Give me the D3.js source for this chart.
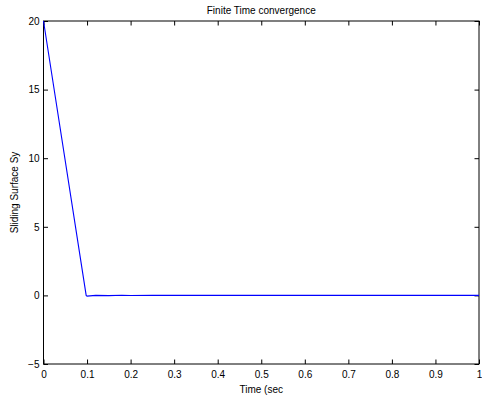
<!DOCTYPE html>
<html>
<head>
<meta charset="utf-8">
<script src="https://cdn.jsdelivr.net/npm/d3@7"></script>
<style>
  body { margin: 0; background: #fff; }
  svg text { font-family: "Liberation Sans", Arial, Helvetica, sans-serif; fill: #000; }
</style>
</head>
<body>
<svg id="chart" width="482" height="396"></svg>
<script>
// Sliding surface response over time
const time  = [0, 0.098, 0.100, 0.120, 0.150, 0.180, 0.200, 0.250, 0.300, 0.400, 0.500, 0.600, 0.700, 0.800, 0.900, 1.000];
const sy    = [20, 0.0, -0.05, 0.0, -0.02, 0.01, -0.01, 0.0, 0.0, 0.0, 0.0, 0.0, 0.0, 0.0, 0.0, 0.0];
const xTicks = [0, 0.1, 0.2, 0.3, 0.4, 0.5, 0.6, 0.7, 0.8, 0.9, 1];
const yTicks = [-5, 0, 5, 10, 15, 20];

const svg = d3.select("#chart");
const m = { left: 43.5, right: 479, top: 21, bottom: 364 };

const x = d3.scaleLinear().domain([0, 1]).range([m.left, m.right]);
const y = d3.scaleLinear().domain([-5, 20]).range([m.bottom, m.top]);

const tickLen = 4.5;

// Bottom axis with labels, ticks pointing into the plot
const gx = svg.append("g").attr("transform", `translate(0,${m.bottom})`)
  .call(d3.axisBottom(x).tickValues(xTicks).tickSizeInner(-tickLen).tickSizeOuter(0).tickPadding(7)
        .tickFormat(d => d === 0 || d === 1 ? String(d) : d3.format(".1f")(d)));
// Top axis, ticks only
const gt = svg.append("g").attr("transform", `translate(0,${m.top})`)
  .call(d3.axisTop(x).tickValues(xTicks).tickSizeInner(-tickLen).tickSizeOuter(0).tickFormat(""));
// Left axis with labels
const gy = svg.append("g").attr("transform", `translate(${m.left},0)`)
  .call(d3.axisLeft(y).tickValues(yTicks).tickSizeInner(-tickLen).tickSizeOuter(0).tickPadding(4)
        .tickFormat(d => d < 0 ? "\u2212" + Math.abs(d) : String(d)));
// Right axis, ticks only
const gr = svg.append("g").attr("transform", `translate(${m.right},0)`)
  .call(d3.axisRight(y).tickValues(yTicks).tickSizeInner(-tickLen).tickSizeOuter(0).tickFormat(""));

[gx, gt, gy, gr].forEach(g => {
  g.select(".domain").remove();
  g.selectAll(".tick line").attr("stroke", "#000").attr("stroke-width", 1);
  g.selectAll("text").attr("font-size", 10).style("font-family", '"Liberation Sans", Arial, sans-serif');
});

// Box frame
svg.append("rect")
  .attr("x", m.left).attr("y", m.top)
  .attr("width", m.right - m.left).attr("height", m.bottom - m.top)
  .attr("fill", "none").attr("stroke", "#000").attr("stroke-width", 1);

// Data line
const line = d3.line().x((d, i) => x(time[i])).y((d, i) => y(sy[i]));
svg.append("path")
  .attr("d", line(sy))
  .attr("fill", "none")
  .attr("stroke", "#0000ff")
  .attr("stroke-width", 1.1);

// Title and axis labels
svg.append("text")
  .attr("x", (m.left + m.right) / 2).attr("y", 14)
  .attr("text-anchor", "middle").attr("font-size", 10)
  .text("Finite Time convergence");

svg.append("text")
  .attr("x", (m.left + m.right) / 2).attr("y", 393)
  .attr("text-anchor", "middle").attr("font-size", 10)
  .text("Time (sec");

svg.append("text")
  .attr("transform", `translate(18,${(m.top + m.bottom) / 2}) rotate(-90)`)
  .attr("text-anchor", "middle").attr("font-size", 10)
  .text("Sliding Surface Sy");
</script>
</body>
</html>
